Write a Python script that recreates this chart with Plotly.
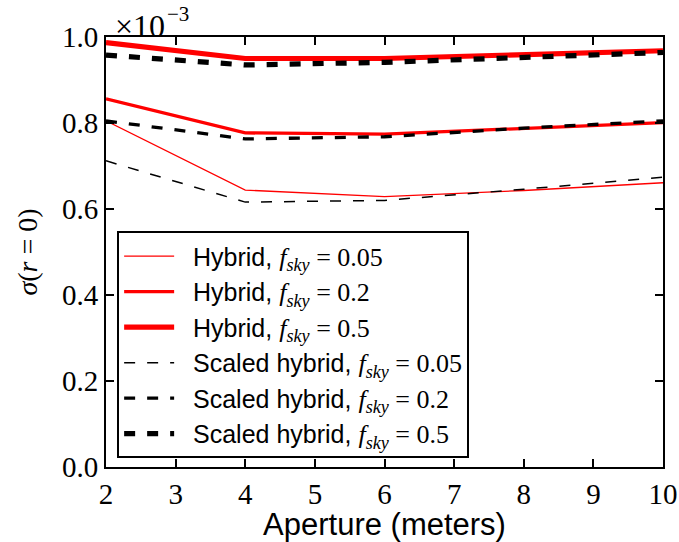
import plotly.graph_objects as go

# Telescope aperture (meters)
aperture = [2, 4, 6, 8, 10]

# sigma(r=0), in units of 1e-3
hybrid_005 = [0.805, 0.644, 0.629, 0.643, 0.661]
hybrid_02 = [0.856, 0.777, 0.774, 0.787, 0.801]
hybrid_05 = [0.987, 0.950, 0.950, 0.959, 0.968]
scaled_005 = [0.712, 0.616, 0.620, 0.646, 0.674]
scaled_02 = [0.805, 0.763, 0.768, 0.788, 0.805]
scaled_05 = [0.958, 0.935, 0.941, 0.953, 0.964]

x_ticks = [2, 3, 4, 5, 6, 7, 8, 9, 10]
y_ticks = [0.0, 0.2, 0.4, 0.6, 0.8, 1.0]

SERIF = "Liberation Serif, Times New Roman, serif"
MATH = "font-family:'Liberation Serif',serif;font-size:26px"


def label(prefix, fsky):
    return (f"&nbsp;&nbsp;{prefix}, "
            f"<span style=\"{MATH}\"><i>f<sub>sky</sub></i> = {fsky}</span>")


series = [
    (hybrid_005, label("Hybrid", "0.05"), "red", 1.3, "solid"),
    (hybrid_02, label("Hybrid", "0.2"), "red", 3.3, "solid"),
    (hybrid_05, label("Hybrid", "0.5"), "red", 5.2, "solid"),
    (scaled_005, label("Scaled hybrid", "0.05"), "black", 1.5, "11px,12px"),
    (scaled_02, label("Scaled hybrid", "0.2"), "black", 3.3, "11px,12px"),
    (scaled_05, label("Scaled hybrid", "0.5"), "black", 5.2, "11px,12px"),
]

fig = go.Figure()
for i, (vals, name, color, width, dash) in enumerate(series):
    fig.add_trace(go.Scatter(
        x=aperture, y=vals, mode="lines", name=name,
        legendgroup=f"g{i}",
        line=dict(color=color, width=width, dash=dash),
    ))

axis_common = dict(
    showline=True, linecolor="black", linewidth=2, mirror="allticks",
    ticks="inside", ticklen=8, tickwidth=1.5, tickcolor="black",
    showgrid=False, zeroline=False, automargin=False,
    tickfont=dict(family=SERIF, size=29, color="black"),
)

fig.update_xaxes(
    range=[2, 10], tickvals=x_ticks, ticktext=[str(v) for v in x_ticks],
    title=dict(text="Aperture (meters)",
               font=dict(family="Liberation Sans", size=31, color="black"),
               standoff=10),
    **axis_common,
)
fig.update_yaxes(
    range=[0, 1.0], tickvals=y_ticks, ticktext=[f"{v:.1f}" for v in y_ticks],
    title=dict(text="<i>σ</i>(<i>r</i> = 0)",
               font=dict(family=SERIF, size=28, color="black"),
               standoff=16),
    **axis_common,
)

# offset multiplier for the y axis: base and exponent placed separately
fig.add_annotation(
    xref="paper", yref="paper", x=0.0126, y=1.0256,
    xanchor="left", yanchor="middle", text="×10", showarrow=False,
    font=dict(family=SERIF, size=32, color="black"),
)
fig.add_annotation(
    xref="paper", yref="paper", x=0.106, y=1.0535,
    xanchor="left", yanchor="middle", text="−3", showarrow=False,
    font=dict(family=SERIF, size=21, color="black"),
)

fig.update_layout(
    width=679, height=542,
    margin=dict(l=106, r=16, t=37, b=75, autoexpand=False),
    paper_bgcolor="white", plot_bgcolor="white",
    showlegend=True,
    legend=dict(
        x=0.02, y=0.02, xanchor="left", yanchor="bottom",
        bgcolor="white", bordercolor="black", borderwidth=2,
        font=dict(family="Liberation Sans", size=25, color="black"),
        tracegroupgap=0, itemwidth=50,
    ),
)

fig.write_html("out.html")
